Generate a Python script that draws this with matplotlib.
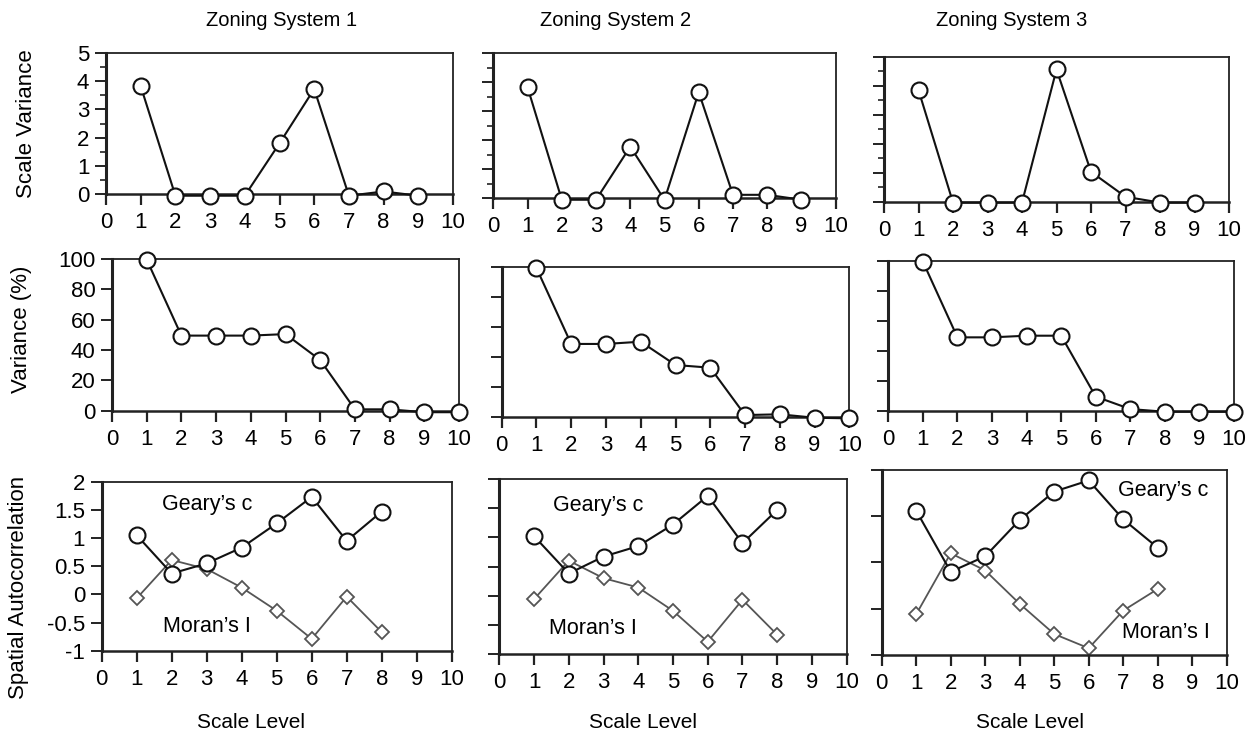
import matplotlib
matplotlib.use("Agg")
import matplotlib.pyplot as plt
import numpy as np

plt.rcParams['font.family'] = ['Liberation Sans', 'DejaVu Sans']

W, H = 1248, 737

# x values (scale levels)
levels_sv = [1, 2, 3, 4, 5, 6, 7, 8, 9]
levels_pv = [1, 2, 3, 4, 5, 6, 7, 8, 9, 10]
levels_sa = [1, 2, 3, 4, 5, 6, 7, 8]

# scale variance, one list per zoning system
sv_zs1 = [3.82, -0.05, -0.05, -0.05, 1.80, 3.72, -0.05, 0.10, -0.05]
sv_zs2 = [3.83, -0.05, -0.05, 1.78, -0.05, 3.66, 0.12, 0.12, -0.05]
sv_zs3 = [3.85, -0.03, -0.03, -0.03, 4.56, 1.03, 0.17, -0.03, -0.03]

# variance (%)
pv_zs1 = [99.6, 49.5, 49.5, 49.5, 50.5, 33.4, 0.9, 0.9, -1.0, -1.0]
pv_zs2 = [99.5, 48.7, 48.7, 50.2, 34.6, 32.8, 1.1, 1.6, -0.7, -1.1]
pv_zs3 = [99.6, 49.0, 49.0, 50.1, 50.1, 9.4, 1.1, -0.7, -0.7, -0.7]

# spatial autocorrelation
geary_zs1 = [1.05, 0.37, 0.55, 0.83, 1.26, 1.73, 0.95, 1.47]
moran_zs1 = [-0.07, 0.61, 0.45, 0.12, -0.29, -0.79, -0.04, -0.67]
geary_zs2 = [1.02, 0.38, 0.67, 0.85, 1.22, 1.71, 0.90, 1.47]
moran_zs2 = [-0.06, 0.60, 0.30, 0.14, -0.26, -0.79, -0.07, -0.67]
geary_zs3 = [1.34, 0.35, 0.60, 1.19, 1.65, 1.83, 1.20, 0.74]
moran_zs3 = [-0.34, 0.65, 0.37, -0.17, -0.66, -0.89, -0.28, 0.07]

titles = ["Zoning System 1", "Zoning System 2", "Zoning System 3"]
row_labels = ["Scale Variance", "Variance (%)", "Spatial Autocorrelation"]

fig = plt.figure(figsize=(W / 100, H / 100), dpi=100)


def add_ax(l, r, t, b):
    return fig.add_axes([l / W, 1 - b / H, (r - l) / W, (b - t) / H])


def style(ax, ylim, yticks, minor=None, show_ylabels=False):
    ax.set_xlim(0, 10)
    ax.set_ylim(*ylim)
    ax.set_xticks(range(11))
    ax.set_yticks(yticks)
    if minor is not None:
        ax.set_yticks(minor, minor=True)
    if not show_ylabels:
        ax.set_yticklabels([])
    for name, sp in ax.spines.items():
        sp.set_color('#222222')
        sp.set_linewidth(1.3)
    ax.spines['left'].set_linewidth(2.2)
    ax.spines['bottom'].set_linewidth(1.8)
    ax.tick_params(axis='x', direction='out', length=8, width=1.6,
                   labelsize=16, pad=5, color='#222222')
    ax.tick_params(axis='y', which='major', direction='out', length=8,
                   width=1.4, labelsize=16, pad=4, color='#222222')
    ax.tick_params(axis='y', which='minor', direction='out', length=4,
                   width=1.2, color='#222222')


def circles(ax, x, y):
    ax.plot(x, y, color='#111111', lw=1.5, marker='o', ms=11.5,
            mfc='white', mec='#111111', mew=1.5, clip_on=False, zorder=3)


def diamonds(ax, x, y):
    ax.plot(x, y, color='#555555', lw=1.3, marker='D', ms=7.5,
            mfc='white', mec='#555555', mew=1.3, clip_on=False, zorder=2)


# row 1: scale variance
boxes_sv = [(106, 453, 52.7, 194.3), (493.3, 835.7, 53.3, 198.3), (884, 1229, 56.7, 201.7)]
for i, (box, vals) in enumerate(zip(boxes_sv, [sv_zs1, sv_zs2, sv_zs3])):
    ax = add_ax(*box)
    style(ax, (0, 5), range(6), minor=np.arange(0.5, 5, 1.0), show_ylabels=(i == 0))
    circles(ax, levels_sv, vals)

# row 2: variance (%)
boxes_pv = [(112, 459, 259, 410.7), (501.7, 849.3, 267.3, 416.7), (888.3, 1234, 261, 410.7)]
for i, (box, vals) in enumerate(zip(boxes_pv, [pv_zs1, pv_zs2, pv_zs3])):
    ax = add_ax(*box)
    style(ax, (0, 100), range(0, 101, 20), show_ylabels=(i == 0))
    circles(ax, levels_pv, vals)

# row 3: spatial autocorrelation
boxes_sa = [(101.7, 451.7, 481.7, 650.7), (499.3, 846.7, 479, 654), (881.7, 1226.7, 470, 655)]
geary = [geary_zs1, geary_zs2, geary_zs3]
moran = [moran_zs1, moran_zs2, moran_zs3]
geary_txt = [(3.0, 1.59), (2.85, 1.55), (8.15, 1.67)]
moran_txt = [(3.0, -0.57), (2.7, -0.56), (8.25, -0.63)]
for i, box in enumerate(boxes_sa):
    ax = add_ax(*box)
    if i < 2:
        style(ax, (-1, 2), np.arange(-1, 2.01, 0.5), show_ylabels=(i == 0))
        ax.set_yticklabels(['-1', '-0.5', '0', '0.5', '1', '1.5', '2'] if i == 0 else [])
    else:
        style(ax, (-1, 2), np.linspace(-1, 2, 5))
    diamonds(ax, levels_sa, moran[i])
    circles(ax, levels_sa, geary[i])
    ax.text(*geary_txt[i], "Geary\u2019s c", fontsize=15.5, ha='center', va='center')
    ax.text(*moran_txt[i], "Moran\u2019s I", fontsize=15.5, ha='center', va='center')

# column titles and axis labels
for x, t in zip([282, 616, 1012], titles):
    fig.text(x / W, 1 - 20 / H, t, fontsize=14.5, ha='center', va='center')
for x in [251, 643, 1030]:
    fig.text(x / W, 1 - 722 / H, "Scale Level", fontsize=15, ha='center', va='center')
for x, y, t in zip([27, 22, 19], [124, 329, 587], row_labels):
    fig.text(x / W, 1 - y / H, t, fontsize=16, rotation=90, ha='center', va='center')

fig.savefig("out.png", dpi=100, facecolor='white')
